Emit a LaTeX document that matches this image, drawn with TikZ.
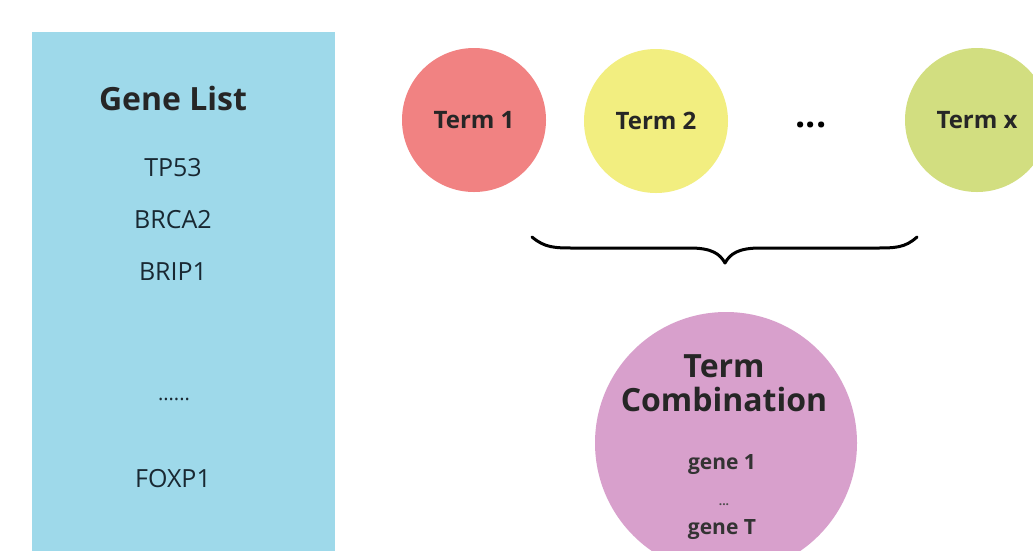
\documentclass[tikz,border=0pt]{standalone}
\usepackage{fontspec}
\setmainfont{Open Sans}
\definecolor{listblue}{RGB}{158,217,234}
\definecolor{termred}{RGB}{241,130,130}
\definecolor{termyellow}{RGB}{242,238,128}
\definecolor{termgreen}{RGB}{210,222,128}
\definecolor{combo}{RGB}{216,160,204}
\definecolor{txt}{RGB}{25,40,50}
\begin{document}
\begin{tikzpicture}[x=1pt,y=-1pt,
  term/.style={circle,minimum size=144pt,inner sep=0pt,font=\fontsize{24}{26}\selectfont\bfseries,text=black!85},
  gene/.style={font=\fontsize{25}{27}\selectfont,text=txt},
  combotext/.style={font=\fontsize{32}{34}\selectfont\bfseries,text=black!85},
  combogene/.style={font=\fontsize{21}{23}\selectfont\bfseries,text=black!80},
  ]
\useasboundingbox (0,0) rectangle (1033,550);
\fill[white] (0,0) rectangle (1033,550);
\node[draw=none,fill=listblue,minimum width=303pt,minimum height=530pt,anchor=north west,inner sep=0pt] (list) at (32,32) {};
\node[font=\fontsize{32}{34}\selectfont\bfseries,text=black!85] (title) at (173,98) {Gene List};
\node[gene] (g1) at (173,168) {TP53};
\node[gene] (g2) at (173,220) {BRCA2};
\node[gene] (g3) at (173,272) {BRIP1};
\node[gene,font=\fontsize{20}{22}\selectfont,anchor=base] (g4) at (174,400) {......};
\node[gene] (g5) at (173,479) {FOXP1};

\node[term,fill=termred] (t1) at (474,120) {Term 1};
\node[term,fill=termyellow] (t2) at (656,121) {Term 2};
\node[font=\fontsize{36}{38}\selectfont\bfseries,anchor=base] (dots) at (811,127) {...};
\node[term,fill=termgreen] (tx) at (977,120) {Term x};

\coordinate (bl) at (532,237);
\coordinate (br) at (917,237);
\coordinate (btip) at (725,263);
\draw[line width=3pt,line cap=round,line join=round] (bl) .. controls (545,248) and (555,248) .. (575,248) -- (690,248) .. controls (712,248) and (720,254) .. (btip) .. controls (730,254) and (738,248) .. (760,248) -- (875,248) .. controls (895,248) and (905,248) .. (br);

\node[circle,fill=combo,minimum size=262pt,inner sep=0pt] (tc) at (726,443) {};
\node[combotext] (tcl1) at (724,366) {Term};
\node[combotext] (tcl2) at (724,399) {Combination};
\node[combogene] (ge1) at (722,465) {gene 1};
\node[font=\fontsize{12}{14}\selectfont\bfseries,text=black!70,anchor=base] (ged) at (724,505) {...};
\node[combogene] (geT) at (722,530) {gene T};
\end{tikzpicture}
\end{document}
